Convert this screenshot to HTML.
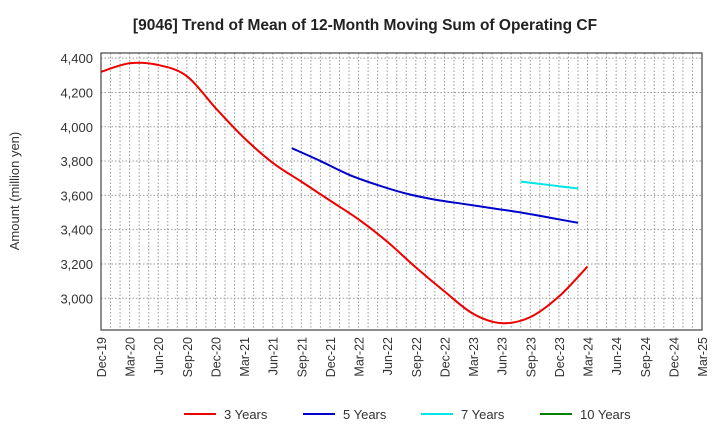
<!DOCTYPE html>
<html><head><meta charset="utf-8"><style>
body{margin:0;background:#fff;font-family:"Liberation Sans",sans-serif;}
</style></head><body>
<svg id="c" width="720" height="440" xmlns="http://www.w3.org/2000/svg">
<text x="365" y="30" text-anchor="middle" font-size="15.5" font-weight="bold" fill="#222">[9046]  Trend of Mean of 12-Month Moving Sum of Operating CF</text>
<text transform="translate(19,191) rotate(-90)" text-anchor="middle" font-size="13" fill="#333">Amount (million yen)</text>
<g id="grid"></g><g id="axes"></g><g id="series"></g><g id="legend"></g>
</svg>
<script>
const xLabels=["Dec-19","Mar-20","Jun-20","Sep-20","Dec-20","Mar-21","Jun-21","Sep-21","Dec-21","Mar-22","Jun-22","Sep-22","Dec-22","Mar-23","Jun-23","Sep-23","Dec-23","Mar-24","Jun-24","Sep-24","Dec-24","Mar-25"];
const yTicks=[3000,3200,3400,3600,3800,4000,4200,4400];
const s3=[4320,4370,4360,4295,4110,3935,3790,3680,3570,3460,3330,3180,3040,2910,2855,2890,3010,3185];
const s3start=0;
const s5=[3875,3800,3720,3660,3610,3575,3550,3525,3500,3470,3440];
const s5start=6.67;
const s7=[3680,3660,3640];
const s7start=14.67;
const s10=[];
const NS="http://www.w3.org/2000/svg";
const L=101,R=702,T=53,B=330,yMin=2815,yMax=4430;
const xs=i=>L+i*(R-L)/21;
const ys=v=>B-(v-yMin)/(yMax-yMin)*(B-T);
function mk(t,a,p){const e=document.createElementNS(NS,t);for(const k in a)e.setAttribute(k,a[k]);p.appendChild(e);return e;}
const g=document.getElementById('grid'),ax=document.getElementById('axes'),se=document.getElementById('series'),lg=document.getElementById('legend');
for(let m=1;m<63;m++){const x=L+m*(R-L)/63;const l=mk('line',{x1:x,x2:x,y1:T,y2:B,stroke:'#999','stroke-dasharray':'1.5,2','stroke-width':1},g);

}
yTicks.forEach(v=>{const y=ys(v);const l=mk('line',{x1:L,x2:R,y1:y,y2:y,stroke:'#999','stroke-dasharray':'1.5,2'},g);


const t=mk('text',{x:L-8,y:y+5,'text-anchor':'end','font-size':13,fill:'#333'},ax);t.textContent=v.toLocaleString('en-US');

});
const fr=mk('rect',{x:L,y:T,width:R-L,height:B-T,fill:'none',stroke:'#444','stroke-width':1.2},ax);


xLabels.forEach((s,i)=>{const x=xs(i);const t=mk('text',{transform:`translate(${x+5},${B+7}) rotate(-90)`,'text-anchor':'end','font-size':12.5,fill:'#333'},ax);t.textContent=s;

});
function path(arr,st){const p=arr.map((v,i)=>[xs(st+i),ys(v)]);if(p.length<2)return '';let d=`M${p[0][0]},${p[0][1]}`;
for(let i=0;i<p.length-1;i++){const p0=p[i-1]||p[i],p1=p[i],p2=p[i+1],p3=p[i+2]||p2;
d+=` C${p1[0]+(p2[0]-p0[0])/6},${p1[1]+(p2[1]-p0[1])/6} ${p2[0]-(p3[0]-p1[0])/6},${p2[1]-(p3[1]-p1[1])/6} ${p2[0]},${p2[1]}`;}return d;}
[[s3,s3start,'#ee0000','series-3-years'],[s5,s5start,'#0000cc','series-5-years'],[s7,s7start,'#00e5e5','series-7-years'],[s10,0,'#008000','series-10-years']].forEach(([a,st,c,n])=>{
if(a.length<2)return;const e=mk('path',{d:path(a,st),fill:'none',stroke:c,'stroke-width':2},se);

});
[['3 Years','#ee0000',184],['5 Years','#0000cc',303],['7 Years','#00e5e5',421],['10 Years','#008000',540]].forEach(([s,c,x])=>{
const l=mk('line',{x1:x,x2:x+32,y1:414,y2:414,stroke:c,'stroke-width':2},lg);


const t=mk('text',{x:x+40,y:419,'font-size':13,fill:'#333'},lg);t.textContent=s;

});
</script>
</body></html>
